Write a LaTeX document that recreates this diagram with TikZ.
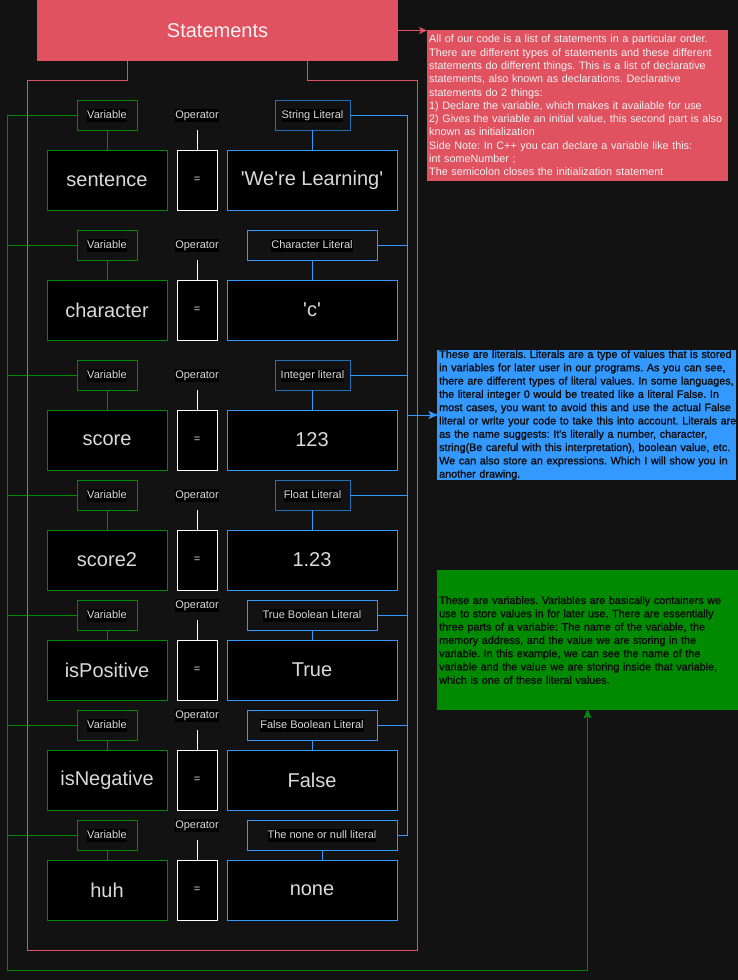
\documentclass[tikz,border=0pt]{standalone}
\usepackage{fontspec}
\setmainfont{Liberation Sans}
\newfontfamily\heavyfont{Liberation Sans}[FakeBold=1.2]
\usetikzlibrary{arrows.meta}
\definecolor{bg}{HTML}{121212}
\definecolor{myred}{HTML}{E05260}
\definecolor{mygreen}{HTML}{008A00}
\definecolor{myblue}{HTML}{3399FF}
\definecolor{darkblue}{HTML}{2470B8}
\definecolor{txt}{HTML}{DADADA}
\definecolor{lighttxt}{HTML}{F2F2F2}
\definecolor{notetxt}{HTML}{0C0C0C}
\newcommand{\hlt}[1]{{\setlength{\fboxsep}{0pt}\colorbox{black}{\rule[-3pt]{0pt}{13pt}#1}}}
\newcommand{\sq}{\textquotesingle}
\frenchspacing
\begin{document}
\begin{tikzpicture}[x=1pt,y=-1pt,
  mainfont/.style={font=\fontsize{20}{24}\selectfont},
  smallfont/.style={font=\fontsize{11}{13.3}\selectfont},
  notefont/.style={font=\fontsize{10.8}{13.3}\selectfont},
  heavynote/.style={font=\heavyfont\fontsize{10.8}{13.3}\selectfont},
  box/.style={draw, line width=1pt, fill=black, inner sep=0pt, outer sep=0pt, anchor=north west, text=txt, mainfont},
  varbox/.style={box, draw=mygreen, minimum width=120pt, minimum height=60pt},
  opbox/.style={box, draw=white, minimum width=40pt, minimum height=60pt, smallfont},
  litbox/.style={box, draw=myblue, minimum width=170pt, minimum height=60pt},
  lab/.style={draw, line width=1pt, inner sep=0pt, outer sep=0pt, anchor=north west, minimum height=30pt, text=txt, smallfont},
  varlab/.style={lab, draw=mygreen, minimum width=60pt},
  litlab/.style={lab, draw=myblue},
  oplab/.style={inner sep=0pt, outer sep=0pt, minimum width=60pt, minimum height=30pt, anchor=north west, text=txt, smallfont},
  notebox/.style={inner sep=0pt, outer sep=0pt, anchor=north west},
  notetext/.style={inner sep=0pt, anchor=west, text width=320pt, align=left},
  arr/.style={-{Stealth[length=8pt,width=7pt,inset=2pt]}},
  conn/.style={line width=1pt}
]
\useasboundingbox (0,0) rectangle (738,980);
\fill[bg] (0,0) rectangle (738,980);

% Statements
\node[fill=myred, minimum width=361pt, minimum height=61pt, inner sep=0pt, outer sep=0pt, anchor=north west, text=lighttxt, mainfont] (stmt) at (37,0) {Statements};

% notes
\node[notebox, fill=myred, minimum width=301pt, minimum height=151pt] (rnote) at (427,30) {};
\node[notetext, notefont, text=lighttxt] (rnotetxt) at ([xshift=2pt]rnote.west) {All of our code is a list of statements in a particular order.\\
There are different types of statements and these different\\
statements do different things. This is a list of declarative\\
statements, also known as declarations. Declarative\\
statements do 2 things:\\
1) Declare the variable, which makes it available for use\\
2) Gives the variable an initial value, this second part is also\\
known as initialization\\
Side Note: In C++ you can declare a variable like this:\\
int someNumber ;\\
The semicolon closes the initialization statement};

\node[notebox, fill=myblue, minimum width=299pt, minimum height=130pt] (bnote) at (437,350) {};
\node[notetext, heavynote, text=notetxt] (bnotetxt) at ([xshift=2pt]bnote.west) {These are literals. Literals are a type of values that is stored\\
in variables for later user in our programs. As you can see,\\
there are different types of literal values. In some languages,\\
the literal integer 0 would be treated like a literal False. In\\
most cases, you want to avoid this and use the actual False\\
literal or write your code to take this into account. Literals are\\
as the name suggests: It\sq s literally a number, character,\\
string(Be careful with this interpretation), boolean value, etc.\\
We can also store an expressions. Which I will show you in\\
another drawing.};

\node[notebox, fill=mygreen, minimum width=301pt, minimum height=140pt] (gnote) at (437,570) {};
\node[notetext, heavynote, text=notetxt] (gnotetxt) at ([xshift=2pt]gnote.west) {These are variables. Variables are basically containers we\\
use to store values in for later use. There are essentially\\
three parts of a variable: The name of the variable, the\\
memory address, and the value we are storing in the\\
variable. In this example, we can see the name of the\\
variable and the value we are storing inside that variable,\\
which is one of these literal values.};

% helper coordinates
\coordinate (gx) at (7,0);
\coordinate (gdown) at (7,970);
\coordinate (gright) at (gnote.south |- gdown);
\coordinate (bx) at (407,0);
\coordinate (bjoin) at (bx |- bnote.west);
\coordinate (redmeet) at (358,950);

% red frame
\draw[conn, myred] ([xshift=90pt]stmt.south west) -- (127,80) -- (27,80) -- (27,950) -- (redmeet);
\draw[conn, myred] ([xshift=-91pt]stmt.south east) -- (307,80) -- (417,80) -- (417,950) -- (redmeet);
\draw[conn, myred, arr] (stmt.east) -- (stmt.east -| rnote.west);

% rows
\foreach \i/\mt/\lt/\ot/\lx/\lw/\lc/\vn/\ln/\vv in {
1/150/100/100/275/75/darkblue/sentence/String Literal/\sq We\sq re Learning\sq,
2/280/230/230/247/130/myblue/character/Character Literal/\sq c\sq,
3/410/360/360/275/75/darkblue/score/Integer literal/123,
4/530/480/480/275/75/darkblue/score2/Float Literal/1.23,
5/640/600/590/247/130/myblue/isPositive/True Boolean Literal/True,
6/750/710/700/247/130/myblue/isNegative/False Boolean Literal/False,
7/860/820/810/247/150/myblue/huh/The none or null literal/none}
{
  \node[varbox] (vb\i) at (47,\mt) {\vn};
  \node[opbox] (ob\i) at (177,\mt) {=};
  \node[litbox] (lb\i) at (227,\mt) {\vv};
  \node[varlab] (vl\i) at (77,\lt) {\hlt{Variable}};
  \node[oplab] (ol\i) at (167,\ot) {\hlt{Operator}};
  \node[litlab, draw=\lc, minimum width=\lw pt] (ll\i) at (\lx,\lt) {\hlt{\ln}};
  \draw[conn, mygreen] (vl\i.south) -- (vb\i.north);
  \draw[conn, white] (ol\i.south) -- (ob\i.north);
  \draw[conn, myblue] (ll\i.south) -- (ll\i.south |- lb\i.north);
  \draw[conn, mygreen, arr] (vl\i.west) -- (vl\i.west -| gx) -- (gdown) -- (gright) -- (gnote.south);
  \draw[conn, myblue, arr] (ll\i.east) -- (ll\i.east -| bx) -- (bjoin) -- (bnote.west);
}
\end{tikzpicture}
\end{document}
